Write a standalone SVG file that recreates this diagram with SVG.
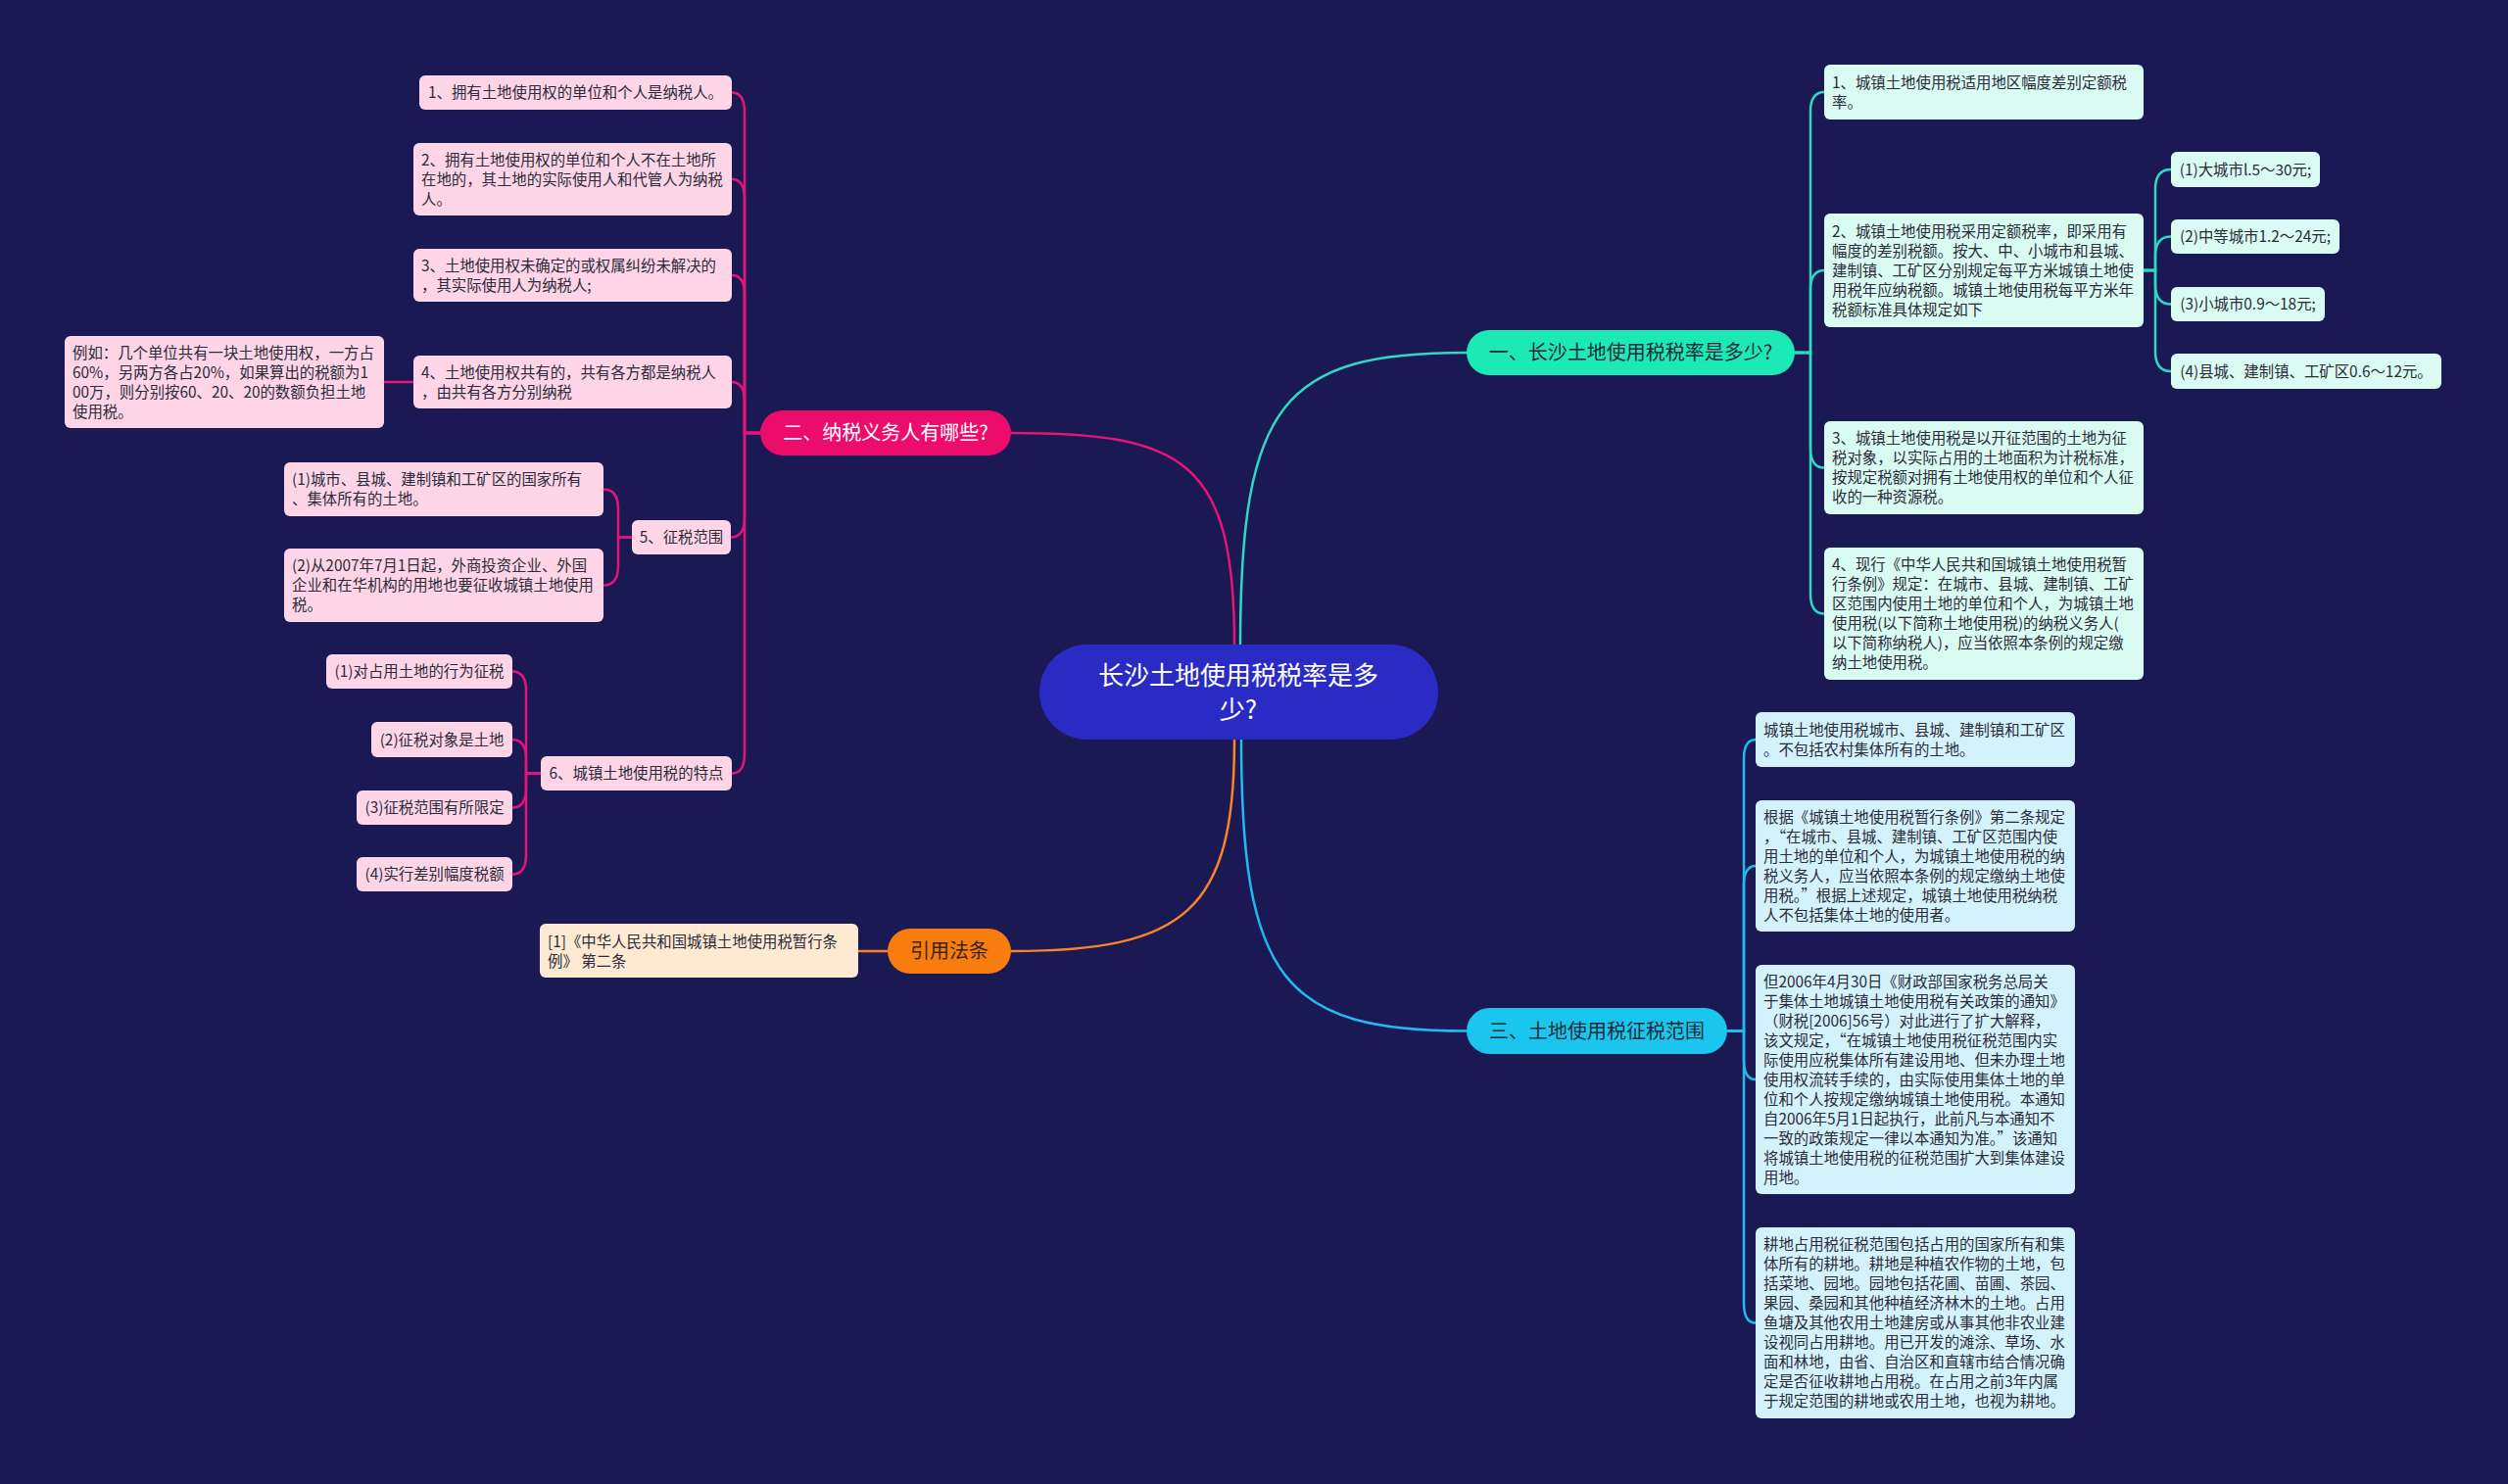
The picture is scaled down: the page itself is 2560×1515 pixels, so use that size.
<svg xmlns="http://www.w3.org/2000/svg" width="2560" height="1515" viewBox="0 0 2560 1515">
<style>
text{font-family:"Noto Sans CJK SC","Noto Sans",sans-serif;}
.leaf{font-size:15.4px;fill:#2b2b3a;}
.mint{fill:#d9fbf1;}
.cyan{fill:#d4f2fc;}
.pink{fill:#fdd5e6;}
.peach{fill:#feead3;}
.c-teal{fill:none;stroke:#2fd8c2;stroke-width:2.5;}
.c-pink{fill:none;stroke:#e3157a;stroke-width:2.5;}
.c-blue{fill:none;stroke:#1fbceb;stroke-width:2.5;}
.c-orange{fill:none;stroke:#f5842a;stroke-width:2.5;}
.br{font-size:20px;}
</style>
<rect x="0" y="0" width="2560" height="1515" fill="#1b1954"/>
<g id="connectors">
<path class="c-teal" d="M1266,660 C1266,410 1310,360 1497,360"/>
<path class="c-pink" d="M1260,660 C1260,470 1210,442 1032,442"/>
<path class="c-orange" d="M1260,755 C1260,930 1210,971 1032,971"/>
<path class="c-blue" d="M1267,755 C1267,1000 1310,1052.5 1497,1052.5"/>
<path class="c-teal" d="M1832,360 H1848 V114 Q1848,94 1862,94"/>
<path class="c-teal" d="M1832,360 H1848 V296 Q1848,276 1862,276"/>
<path class="c-teal" d="M1832,360 H1848 V457.5 Q1848,477.5 1862,477.5"/>
<path class="c-teal" d="M1832,360 H1848 V606.5 Q1848,626.5 1862,626.5"/>
<path class="c-teal" d="M2188,276 H2200 V193 Q2200,173 2216,173"/>
<path class="c-teal" d="M2188,276 H2200 V261.5 Q2200,241.5 2216,241.5"/>
<path class="c-teal" d="M2188,276 H2200 V290.5 Q2200,310.5 2216,310.5"/>
<path class="c-teal" d="M2188,276 H2200 V359 Q2200,379 2216,379"/>
<path class="c-blue" d="M1763,1052.5 H1780 V775 Q1780,755 1792,755"/>
<path class="c-blue" d="M1763,1052.5 H1780 V904 Q1780,884 1792,884"/>
<path class="c-blue" d="M1763,1052.5 H1780 V1082 Q1780,1102 1792,1102"/>
<path class="c-blue" d="M1763,1052.5 H1780 V1330.5 Q1780,1350.5 1792,1350.5"/>
<path class="c-pink" d="M776,442 H760 V114.5 Q760,94.5 747,94.5"/>
<path class="c-pink" d="M776,442 H760 V203 Q760,183 747,183"/>
<path class="c-pink" d="M776,442 H760 V301 Q760,281 747,281"/>
<path class="c-pink" d="M776,442 H760 V410 Q760,390 747,390"/>
<path class="c-pink" d="M776,442 H760 V528.5 Q760,548.5 746,548.5"/>
<path class="c-pink" d="M776,442 H760 V769.5 Q760,789.5 747,789.5"/>
<path class="c-pink" d="M422,390 H392"/>
<path class="c-pink" d="M645,548.5 H631 V519.5 Q631,499.5 616,499.5"/>
<path class="c-pink" d="M645,548.5 H631 V577.5 Q631,597.5 616,597.5"/>
<path class="c-pink" d="M552,789.5 H537 V705.5 Q537,685.5 523,685.5"/>
<path class="c-pink" d="M552,789.5 H537 V775 Q537,755 523,755"/>
<path class="c-pink" d="M552,789.5 H537 V804.5 Q537,824.5 523,824.5"/>
<path class="c-pink" d="M552,789.5 H537 V872.5 Q537,892.5 523,892.5"/>
<path class="c-orange" d="M906,971 H876"/>
</g>
<g id="root">
<rect x="1061" y="658" width="407" height="97" rx="48.5" fill="#2a2bc5"/>
<text x="1264" y="699" font-size="26" fill="#ffffff" text-anchor="middle">长沙土地使用税税率是多<tspan x="1264" dy="35">少?</tspan></text>
</g>
<g id="b1">
<rect x="1497" y="337" width="335" height="46" rx="23" fill="#1de9b6"/>
<text class="br" x="1664.5" y="367" fill="#1e2b3a" text-anchor="middle">一、长沙土地使用税税率是多少?</text>
</g>
<g id="b2">
<rect x="776" y="419" width="256" height="46" rx="23" fill="#ec0c6c"/>
<text class="br" x="904" y="449" fill="#ffffff" text-anchor="middle">二、纳税义务人有哪些?</text>
</g>
<g id="b3">
<rect x="1497" y="1029" width="266" height="47" rx="23.5" fill="#1ac6ee"/>
<text class="br" x="1630" y="1059.5" fill="#1e2b3a" text-anchor="middle">三、土地使用税征税范围</text>
</g>
<g id="b4">
<rect x="906" y="948" width="126" height="46" rx="23" fill="#f97c0e"/>
<text class="br" x="969" y="978" fill="#3b2412" text-anchor="middle">引用法条</text>
</g>
<g id="n1-1">
<rect class="mint" x="1862" y="66" width="326" height="56" rx="6"/>
<text class="leaf" x="1870" y="89.5">1、城镇土地使用税适用地区幅度差别定额税<tspan x="1870" dy="20">率。</tspan></text>
</g>
<g id="n1-2">
<rect class="mint" x="1862" y="218" width="326" height="116" rx="6"/>
<text class="leaf" x="1870" y="241.5">2、城镇土地使用税采用定额税率，即采用有<tspan x="1870" dy="20">幅度的差别税额。按大、中、小城市和县城、</tspan><tspan x="1870" dy="20">建制镇、工矿区分别规定每平方米城镇土地使</tspan><tspan x="1870" dy="20">用税年应纳税额。城镇土地使用税每平方米年</tspan><tspan x="1870" dy="20">税额标准具体规定如下</tspan></text>
</g>
<g id="n1-2-1">
<rect class="mint" x="2216" y="155" width="152" height="36" rx="6"/>
<text class="leaf" x="2292" y="178.5" text-anchor="middle">(1)大城市l.5～30元;</text>
</g>
<g id="n1-2-2">
<rect class="mint" x="2216" y="224" width="172" height="35" rx="6"/>
<text class="leaf" x="2302" y="247" text-anchor="middle">(2)中等城市1.2～24元;</text>
</g>
<g id="n1-2-3">
<rect class="mint" x="2216" y="293" width="157" height="35" rx="6"/>
<text class="leaf" x="2294.5" y="316" text-anchor="middle">(3)小城市0.9～18元;</text>
</g>
<g id="n1-2-4">
<rect class="mint" x="2216" y="361" width="276" height="36" rx="6"/>
<text class="leaf" x="2354" y="384.5" text-anchor="middle">(4)县城、建制镇、工矿区0.6～12元。</text>
</g>
<g id="n1-3">
<rect class="mint" x="1862" y="430" width="326" height="95" rx="6"/>
<text class="leaf" x="1870" y="453">3、城镇土地使用税是以开征范围的土地为征<tspan x="1870" dy="20">税对象，以实际占用的土地面积为计税标准，</tspan><tspan x="1870" dy="20">按规定税额对拥有土地使用权的单位和个人征</tspan><tspan x="1870" dy="20">收的一种资源税。</tspan></text>
</g>
<g id="n1-4">
<rect class="mint" x="1862" y="559" width="326" height="135" rx="6"/>
<text class="leaf" x="1870" y="582">4、现行《中华人民共和国城镇土地使用税暂<tspan x="1870" dy="20">行条例》规定：在城市、县城、建制镇、工矿</tspan><tspan x="1870" dy="20">区范围内使用土地的单位和个人，为城镇土地</tspan><tspan x="1870" dy="20">使用税(以下简称土地使用税)的纳税义务人(</tspan><tspan x="1870" dy="20">以下简称纳税人)，应当依照本条例的规定缴</tspan><tspan x="1870" dy="20">纳土地使用税。</tspan></text>
</g>
<g id="n3-1">
<rect class="cyan" x="1792" y="727" width="326" height="56" rx="6"/>
<text class="leaf" x="1800" y="750.5">城镇土地使用税城市、县城、建制镇和工矿区<tspan x="1800" dy="20">。不包括农村集体所有的土地。</tspan></text>
</g>
<g id="n3-2">
<rect class="cyan" x="1792" y="817" width="326" height="134" rx="6"/>
<text class="leaf" x="1800" y="839.5">根据《城镇土地使用税暂行条例》第二条规定<tspan x="1800" dy="20">，“在城市、县城、建制镇、工矿区范围内使</tspan><tspan x="1800" dy="20">用土地的单位和个人，为城镇土地使用税的纳</tspan><tspan x="1800" dy="20">税义务人，应当依照本条例的规定缴纳土地使</tspan><tspan x="1800" dy="20">用税。”根据上述规定，城镇土地使用税纳税</tspan><tspan x="1800" dy="20">人不包括集体土地的使用者。</tspan></text>
</g>
<g id="n3-3">
<rect class="cyan" x="1792" y="985" width="326" height="234" rx="6"/>
<text class="leaf" x="1800" y="1007.5">但2006年4月30日《财政部国家税务总局关<tspan x="1800" dy="20">于集体土地城镇土地使用税有关政策的通知》</tspan><tspan x="1800" dy="20">（财税[2006]56号）对此进行了扩大解释，</tspan><tspan x="1800" dy="20">该文规定，“在城镇土地使用税征税范围内实</tspan><tspan x="1800" dy="20">际使用应税集体所有建设用地、但未办理土地</tspan><tspan x="1800" dy="20">使用权流转手续的，由实际使用集体土地的单</tspan><tspan x="1800" dy="20">位和个人按规定缴纳城镇土地使用税。本通知</tspan><tspan x="1800" dy="20">自2006年5月1日起执行，此前凡与本通知不</tspan><tspan x="1800" dy="20">一致的政策规定一律以本通知为准。”该通知</tspan><tspan x="1800" dy="20">将城镇土地使用税的征税范围扩大到集体建设</tspan><tspan x="1800" dy="20">用地。</tspan></text>
</g>
<g id="n3-4">
<rect class="cyan" x="1792" y="1253" width="326" height="195" rx="6"/>
<text class="leaf" x="1800" y="1276">耕地占用税征税范围包括占用的国家所有和集<tspan x="1800" dy="20">体所有的耕地。耕地是种植农作物的土地，包</tspan><tspan x="1800" dy="20">括菜地、园地。园地包括花圃、苗圃、茶园、</tspan><tspan x="1800" dy="20">果园、桑园和其他种植经济林木的土地。占用</tspan><tspan x="1800" dy="20">鱼塘及其他农用土地建房或从事其他非农业建</tspan><tspan x="1800" dy="20">设视同占用耕地。用已开发的滩涂、草场、水</tspan><tspan x="1800" dy="20">面和林地，由省、自治区和直辖市结合情况确</tspan><tspan x="1800" dy="20">定是否征收耕地占用税。在占用之前3年内属</tspan><tspan x="1800" dy="20">于规定范围的耕地或农用土地，也视为耕地。</tspan></text>
</g>
<g id="n2-1">
<rect class="pink" x="428" y="77" width="319" height="35" rx="6"/>
<text class="leaf" x="587.5" y="100" text-anchor="middle">1、拥有土地使用权的单位和个人是纳税人。</text>
</g>
<g id="n2-2">
<rect class="pink" x="422" y="146" width="325" height="74" rx="6"/>
<text class="leaf" x="430" y="168.5">2、拥有土地使用权的单位和个人不在土地所<tspan x="430" dy="20">在地的，其土地的实际使用人和代管人为纳税</tspan><tspan x="430" dy="20">人。</tspan></text>
</g>
<g id="n2-3">
<rect class="pink" x="422" y="254" width="325" height="54" rx="6"/>
<text class="leaf" x="430" y="276.5">3、土地使用权未确定的或权属纠纷未解决的<tspan x="430" dy="20">，其实际使用人为纳税人;</tspan></text>
</g>
<g id="n2-4">
<rect class="pink" x="422" y="363" width="325" height="54" rx="6"/>
<text class="leaf" x="430" y="385.5">4、土地使用权共有的，共有各方都是纳税人<tspan x="430" dy="20">，由共有各方分别纳税</tspan></text>
</g>
<g id="n2-4-1">
<rect class="pink" x="66" y="343" width="326" height="94" rx="6"/>
<text class="leaf" x="74" y="365.5">例如：几个单位共有一块土地使用权，一方占<tspan x="74" dy="20">60%，另两方各占20%，如果算出的税额为1</tspan><tspan x="74" dy="20">00万，则分别按60、20、20的数额负担土地</tspan><tspan x="74" dy="20">使用税。</tspan></text>
</g>
<g id="n2-5">
<rect class="pink" x="645" y="531" width="101" height="35" rx="6"/>
<text class="leaf" x="695.5" y="554" text-anchor="middle">5、征税范围</text>
</g>
<g id="n2-5-1">
<rect class="pink" x="290" y="472" width="326" height="55" rx="6"/>
<text class="leaf" x="298" y="495">(1)城市、县城、建制镇和工矿区的国家所有<tspan x="298" dy="20">、集体所有的土地。</tspan></text>
</g>
<g id="n2-5-2">
<rect class="pink" x="290" y="560" width="326" height="75" rx="6"/>
<text class="leaf" x="298" y="583">(2)从2007年7月1日起，外商投资企业、外国<tspan x="298" dy="20">企业和在华机构的用地也要征收城镇土地使用</tspan><tspan x="298" dy="20">税。</tspan></text>
</g>
<g id="n2-6">
<rect class="pink" x="552" y="772" width="195" height="35" rx="6"/>
<text class="leaf" x="649.5" y="795" text-anchor="middle">6、城镇土地使用税的特点</text>
</g>
<g id="n2-6-1">
<rect class="pink" x="333" y="668" width="190" height="35" rx="6"/>
<text class="leaf" x="428" y="691" text-anchor="middle">(1)对占用土地的行为征税</text>
</g>
<g id="n2-6-2">
<rect class="pink" x="379" y="737" width="144" height="36" rx="6"/>
<text class="leaf" x="451" y="760.5" text-anchor="middle">(2)征税对象是土地</text>
</g>
<g id="n2-6-3">
<rect class="pink" x="364" y="807" width="159" height="35" rx="6"/>
<text class="leaf" x="443.5" y="830" text-anchor="middle">(3)征税范围有所限定</text>
</g>
<g id="n2-6-4">
<rect class="pink" x="364" y="875" width="159" height="35" rx="6"/>
<text class="leaf" x="443.5" y="898" text-anchor="middle">(4)实行差别幅度税额</text>
</g>
<g id="n4-1">
<rect class="peach" x="551" y="943" width="325" height="55" rx="6"/>
<text class="leaf" x="559" y="966.5">[1]《中华人民共和国城镇土地使用税暂行条<tspan x="559" dy="20">例》 第二条</tspan></text>
</g>
</svg>
